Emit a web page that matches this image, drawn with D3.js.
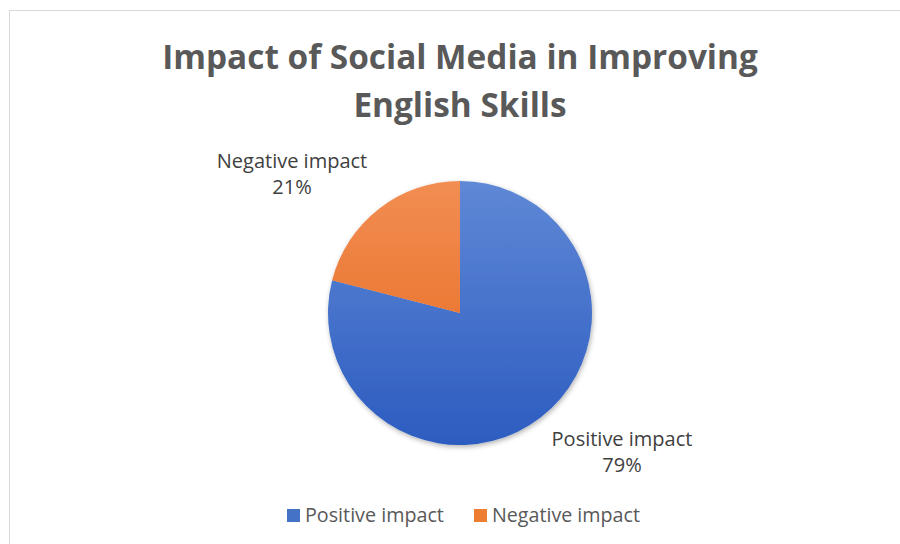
<!DOCTYPE html>
<html>
<head>
<meta charset="utf-8">
<script src="https://cdn.jsdelivr.net/npm/d3@7"></script>
<style>
  html, body { margin: 0; padding: 0; background: #fff; }
  svg text { font-family: "Open Sans", "Noto Sans", sans-serif; }
</style>
</head>
<body>
<div id="chart"></div>
<script>
const categories = ["Positive impact", "Negative impact"];
const values = [79, 21];
const percentLabels = ["79%", "21%"];
const titleLines = ["Impact of Social Media in Improving", "English Skills"];

const width = 900;
const height = 544;
const cx = 460, cy = 313, radius = 132;

const colors = {
  "Positive impact": ["#5f88d6", "#2c5cc0"],
  "Negative impact": ["#f28d52", "#e4661a"]
};
const legendColors = { "Positive impact": "#4472c4", "Negative impact": "#ed7d31" };

const svg = d3.select('#chart')
  .append('svg')
  .attr('width', width)
  .attr('height', height);

// chart area border (runs off the right and bottom edges)
svg.append('rect')
  .attr('x', 9.5).attr('y', 10.5)
  .attr('width', 900).attr('height', 560)
  .attr('fill', '#fff')
  .attr('stroke', '#d9d9d9');

// vertical gradients in the pie group's own coords
const defs = svg.append('defs');
categories.forEach((c, i) => {
  const g = defs.append('linearGradient')
    .attr('id', 'grad' + i)
    .attr('gradientUnits', 'userSpaceOnUse')
    .attr('x1', 0).attr('y1', -radius)
    .attr('x2', 0).attr('y2', radius);
  g.append('stop').attr('offset', '0%').attr('stop-color', colors[c][0]);
  g.append('stop').attr('offset', '100%').attr('stop-color', colors[c][1]);
});
const shadow = defs.append('filter').attr('id', 'shadow')
  .attr('x', '-20%').attr('y', '-20%').attr('width', '140%').attr('height', '140%');
shadow.append('feDropShadow')
  .attr('dx', 1).attr('dy', 2).attr('stdDeviation', 2.5)
  .attr('flood-color', '#000').attr('flood-opacity', 0.3);

// scale the font so the text is as wide as in the picture
function fit(sel, targetWidth, size) {
  sel.attr('font-size', size);
  const w = sel.node().getComputedTextLength();
  sel.attr('font-size', size * targetWidth / w);
  return sel;
}

// title
const t1 = svg.append('text')
  .attr('x', 460).attr('y', 69)
  .attr('text-anchor', 'middle')
  .attr('font-weight', 'bold')
  .attr('fill', '#595959')
  .text(titleLines[0]);
fit(t1, 596, 36);
svg.append('text')
  .attr('x', 460).attr('y', 117)
  .attr('text-anchor', 'middle')
  .attr('font-weight', 'bold')
  .attr('fill', '#595959')
  .attr('font-size', t1.attr('font-size'))
  .text(titleLines[1]);

// pie
const pie = d3.pie().sort(null).value(d => d.value);
const arc = d3.arc().innerRadius(0).outerRadius(radius);
const data = categories.map((c, i) => ({ name: c, value: values[i], label: percentLabels[i] }));

svg.append('g')
  .attr('transform', `translate(${cx},${cy})`)
  .attr('filter', 'url(#shadow)')
  .selectAll('path')
  .data(pie(data))
  .enter()
  .append('path')
  .attr('d', arc)
  .attr('fill', (d, i) => `url(#grad${i})`);

// data labels
const labelPos = {
  "Positive impact": [622, 446],
  "Negative impact": [292, 168]
};
let labelSize = null;
data.forEach(d => {
  const [x, y] = labelPos[d.name];
  const name = svg.append('text')
    .attr('x', x).attr('y', y)
    .attr('text-anchor', 'middle')
    .attr('fill', '#404040')
    .text(d.name);
  if (labelSize === null) {
    fit(name, 141, 18);
    labelSize = +name.attr('font-size');
  } else {
    name.attr('font-size', labelSize);
  }
  svg.append('text')
    .attr('x', x).attr('y', y + 26)
    .attr('text-anchor', 'middle')
    .attr('fill', '#404040')
    .attr('font-size', labelSize)
    .text(d.label);
});

// legend
const legendX = { "Positive impact": 287, "Negative impact": 474 };
const legend = svg.append('g');
categories.forEach(c => {
  legend.append('rect')
    .attr('x', legendX[c]).attr('y', 509)
    .attr('width', 13).attr('height', 13)
    .attr('fill', legendColors[c]);
  const lt = legend.append('text')
    .attr('x', legendX[c] + 18).attr('y', 522)
    .attr('fill', '#595959')
    .text(c);
  fit(lt, c === "Positive impact" ? 139 : 148, 18);
});
</script>
</body>
</html>
